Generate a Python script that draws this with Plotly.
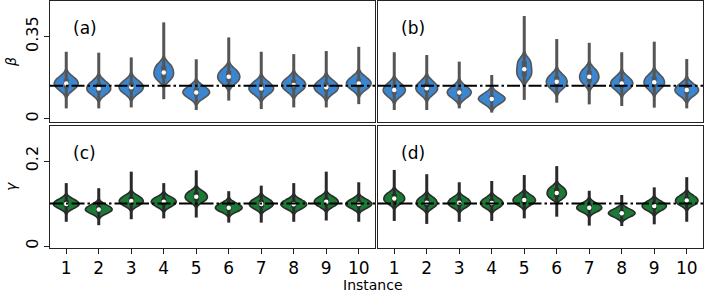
import plotly.graph_objects as go
import numpy as np

# ---------------- data ----------------
instances = list(range(1, 11))
tick_labels = [str(i) for i in instances]

beta_true = 0.14
gamma_true = 0.10

# panel (a): beta
a_med = [0.150, 0.129, 0.134, 0.197, 0.112, 0.179, 0.129, 0.144, 0.134, 0.150]
a_q1 = [0.130, 0.112, 0.116, 0.172, 0.098, 0.158, 0.112, 0.125, 0.116, 0.132]
a_q3 = [0.170, 0.152, 0.155, 0.225, 0.130, 0.203, 0.150, 0.165, 0.155, 0.170]
a_lo = [0.044, 0.044, 0.048, 0.083, 0.037, 0.077, 0.041, 0.048, 0.048, 0.062]
a_hi = [0.285, 0.281, 0.261, 0.410, 0.253, 0.346, 0.285, 0.275, 0.288, 0.306]

# panel (b): beta
b_med = [0.122, 0.130, 0.112, 0.084, 0.211, 0.157, 0.179, 0.150, 0.155, 0.122]
b_q1 = [0.104, 0.112, 0.097, 0.074, 0.180, 0.137, 0.156, 0.131, 0.134, 0.106]
b_q3 = [0.143, 0.152, 0.130, 0.098, 0.245, 0.180, 0.204, 0.170, 0.178, 0.140]
b_lo = [0.037, 0.037, 0.044, 0.026, 0.080, 0.068, 0.061, 0.054, 0.047, 0.044]
b_hi = [0.283, 0.271, 0.243, 0.186, 0.437, 0.339, 0.323, 0.283, 0.328, 0.254]

# panel (c): gamma
c_med = [0.099, 0.086, 0.106, 0.104, 0.116, 0.090, 0.099, 0.098, 0.104, 0.099]
c_q1 = [0.092, 0.080, 0.098, 0.096, 0.107, 0.084, 0.091, 0.091, 0.096, 0.092]
c_q3 = [0.107, 0.094, 0.115, 0.112, 0.126, 0.098, 0.108, 0.106, 0.113, 0.107]
c_lo = [0.057, 0.049, 0.063, 0.065, 0.067, 0.055, 0.055, 0.057, 0.060, 0.057]
c_hi = [0.148, 0.136, 0.175, 0.148, 0.178, 0.129, 0.142, 0.148, 0.175, 0.150]

# panel (d): gamma
d_med = [0.112, 0.102, 0.102, 0.101, 0.108, 0.125, 0.090, 0.077, 0.094, 0.107]
d_q1 = [0.103, 0.093, 0.094, 0.093, 0.100, 0.115, 0.084, 0.072, 0.087, 0.099]
d_q3 = [0.122, 0.112, 0.111, 0.110, 0.117, 0.136, 0.098, 0.084, 0.102, 0.116]
d_lo = [0.059, 0.052, 0.057, 0.059, 0.065, 0.069, 0.048, 0.047, 0.051, 0.057]
d_hi = [0.179, 0.169, 0.150, 0.153, 0.167, 0.188, 0.130, 0.120, 0.138, 0.162]

beta_ticks = [0, 0.35]
beta_tick_text = ["0", "0.35"]
gamma_ticks = [0, 0.2]
gamma_tick_text = ["0", "0.2"]

# ---------------- styling ----------------
W, H = 705, 293
FONT = "DejaVu Sans"

def px_x(p):
    return p / W

def px_y(p):
    return 1 - p / H

col_dom = [[px_x(50), px_x(375)], [px_x(378), px_x(703)]]
row_dom = [[px_y(122), px_y(1)], [px_y(248), px_y(126)]]

styles = {
    "beta": dict(fill="#3b86d1", edge="#555555", bw=0.019,
                 rng=[-0.014, 0.501], tv=beta_ticks, tt=beta_tick_text, true=beta_true),
    "gamma": dict(fill="#1b7a36", edge="#2a2a2a", bw=0.0076,
                  rng=[-0.0047, 0.2824], tv=gamma_ticks, tt=gamma_tick_text, true=gamma_true),
}

panels = [
    dict(lab="(a)", kind="beta", row=0, col=0, med=a_med, q1=a_q1, q3=a_q3, lo=a_lo, hi=a_hi),
    dict(lab="(b)", kind="beta", row=0, col=1, med=b_med, q1=b_q1, q3=b_q3, lo=b_lo, hi=b_hi),
    dict(lab="(c)", kind="gamma", row=1, col=0, med=c_med, q1=c_q1, q3=c_q3, lo=c_lo, hi=c_hi),
    dict(lab="(d)", kind="gamma", row=1, col=1, med=d_med, q1=d_q1, q3=d_q3, lo=d_lo, hi=d_hi),
]

fig = go.Figure()
shapes = []
annotations = []
layout_axes = {}

for i, p in enumerate(panels):
    n = i + 1
    xa = "x" if n == 1 else f"x{n}"
    ya = "y" if n == 1 else f"y{n}"
    xkey = "xaxis" if n == 1 else f"xaxis{n}"
    ykey = "yaxis" if n == 1 else f"yaxis{n}"
    st = styles[p["kind"]]

    vx, vy = [], []
    for k, inst in enumerate(instances):
        for v in (p["q1"][k], p["med"][k], p["q3"][k]):
            vx.append(inst)
            vy.append(v)
    fig.add_trace(go.Violin(
        x=vx, y=vy, xaxis=xa, yaxis=ya, bandwidth=st["bw"], width=0.82,
        scalemode="width", spanmode="soft", points=False,
        fillcolor=st["fill"], line=dict(color=st["edge"], width=1.6),
        opacity=1, showlegend=False, hoverinfo="skip",
    ))

    sx, sy, bx, by = [], [], [], []
    for k, inst in enumerate(instances):
        sx += [inst, inst, None]
        sy += [p["lo"][k], p["hi"][k], None]
        bx += [inst, inst, None]
        by += [p["q1"][k], p["q3"][k], None]
    fig.add_trace(go.Scatter(x=sx, y=sy, xaxis=xa, yaxis=ya, mode="lines",
                             line=dict(color=st["edge"], width=3),
                             showlegend=False, hoverinfo="skip"))
    fig.add_trace(go.Scatter(x=bx, y=by, xaxis=xa, yaxis=ya, mode="lines",
                             line=dict(color=st["edge"], width=5),
                             showlegend=False, hoverinfo="skip"))
    fig.add_trace(go.Scatter(x=instances, y=p["med"], xaxis=xa, yaxis=ya, mode="markers",
                             marker=dict(color="white", size=4.5, line=dict(width=0)),
                             showlegend=False, hoverinfo="skip"))

    shapes.append(dict(type="line", xref=f"{xa} domain", yref=ya, x0=0, x1=1,
                       y0=st["true"], y1=st["true"], layer="above",
                       line=dict(color="black", width=2, dash="13px,3px,2.5px,3px")))

    annotations.append(dict(text=p["lab"], xref=f"{xa} domain", yref=f"{ya} domain",
                            x=0.065, y=0.78, xanchor="left", yanchor="middle",
                            showarrow=False, font=dict(family=FONT, size=17, color="black")))

    bottom = p["row"] == 1
    left = p["col"] == 0
    layout_axes[xkey] = dict(
        domain=col_dom[p["col"]], anchor=ya, range=[0.5, 10.5],
        showline=True, mirror=True, linecolor="#222222", linewidth=1,
        showgrid=False, zeroline=False,
        tickmode="array", tickvals=instances, ticktext=tick_labels,
        ticks="outside" if bottom else "", ticklen=5, tickcolor="#222222",
        showticklabels=bottom, tickfont=dict(family=FONT, size=17, color="black"),
    )
    layout_axes[ykey] = dict(
        domain=row_dom[p["row"]], anchor=xa, range=st["rng"],
        showline=True, mirror=True, linecolor="#222222", linewidth=1,
        showgrid=False, zeroline=False,
        tickmode="array", tickvals=st["tv"], ticktext=st["tt"],
        ticks="outside" if left else "", ticklen=5, tickcolor="#222222",
        showticklabels=left, tickangle=-90,
        tickfont=dict(family=FONT, size=16, color="black"),
    )

annotations.append(dict(text="Instance", xref="paper", yref="paper",
                        x=px_x(373), y=px_y(284.5), xanchor="center", yanchor="middle",
                        showarrow=False, font=dict(family=FONT, size=14, color="black")))
annotations.append(dict(text="<i>β</i>", xref="paper", yref="paper",
                        x=px_x(11), y=px_y(62), xanchor="center", yanchor="middle",
                        textangle=-90, showarrow=False,
                        font=dict(family=FONT, size=14, color="black")))
annotations.append(dict(text="<i>γ</i>", xref="paper", yref="paper",
                        x=px_x(11), y=px_y(187), xanchor="center", yanchor="middle",
                        textangle=-90, showarrow=False,
                        font=dict(family=FONT, size=14, color="black")))

fig.update_layout(
    width=W, height=H, margin=dict(l=0, r=0, t=0, b=0),
    paper_bgcolor="white", plot_bgcolor="white",
    font=dict(family=FONT, color="black"),
    shapes=shapes, annotations=annotations, showlegend=False,
    **layout_axes,
)

fig.write_html("out.html", config={"displayModeBar": False},
               post_script="document.body.style.margin='0px';document.body.style.padding='0px';")
